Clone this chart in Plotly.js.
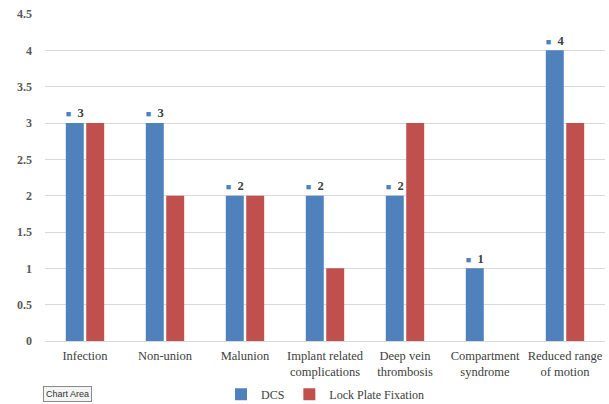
<!DOCTYPE html>
<html>
<head>
<meta charset="utf-8">
<script src="https://cdn.plot.ly/plotly-3.0.1.min.js"></script>
<style>html,body{margin:0;padding:0;background:#fff;}#chart{width:609px;height:404px;}</style>
</head>
<body>
<div id="chart"></div>
<script>
var categories = ["Infection", "Non-union", "Malunion", "Implant related<br>complications", "Deep vein<br>thrombosis", "Compartment<br>syndrome", "Reduced range<br>of motion"];
var dcsValues = [3, 3, 2, 2, 2, 1, 4];
var lockPlateValues = [3, 2, 2, 1, 3, 0, 3];
var yTickVals = [0, 0.5, 1, 1.5, 2, 2.5, 3, 3.5, 4, 4.5];
var yTickText = ["0", "0.5", "1", "1.5", "2", "2.5", "3", "3.5", "4", "4.5"];

var blue = "#4f81bd", red = "#c0504d";
var serif = "'Times New Roman', 'Liberation Serif', 'DejaVu Serif', serif";

var traces = [
  {
    type: "bar", name: "DCS", x: categories, y: dcsValues,
    marker: {color: blue},
    text: dcsValues.map(function(v){ return '<span style="color:' + blue + ';font-size:10px">■</span>  ' + '<b>' + v + '</b>'; }),
    textposition: "outside", cliponaxis: false,
    textfont: {family: serif, size: 14, color: "#404040"},
    hoverinfo: "none"
  },
  {
    type: "bar", name: "Lock Plate Fixation", x: categories, y: lockPlateValues,
    marker: {color: red}, hoverinfo: "none"
  }
];

var layout = {
  width: 609, height: 404,
  margin: {l: 45, r: 4, t: 14, b: 63, autoexpand: false},
  paper_bgcolor: "#fff", plot_bgcolor: "#fff",
  barmode: "group", bargap: 0.49, bargroupgap: 0.12,
  font: {family: serif},
  showlegend: true,
  legend: {orientation: "h", x: 0.5, xanchor: "center", y: -0.163, yanchor: "middle",
    font: {family: serif, size: 12, color: "#404040"}, itemwidth: 30},
  xaxis: {
    type: "category", showgrid: false, showline: true, linecolor: "#d9d9d9", linewidth: 1,
    ticks: "", automargin: false, ticklabelstandoff: 3, tickfont: {family: serif, size: 12.5, color: "#404040"},
    fixedrange: true
  },
  yaxis: {
    range: [0, 4.5], tickvals: yTickVals, ticktext: yTickText, automargin: false,
    showgrid: true, gridcolor: "#d9d9d9", gridwidth: 1, zeroline: false, showline: false,
    ticks: "", ticklabelstandoff: 12,
    tickfont: {family: serif, size: 12, color: "#595959", weight: "bold"},
    fixedrange: true
  },
  annotations: [
    {xref: "paper", yref: "paper", x: -0.004, y: -0.138, xanchor: "left", yanchor: "top",
     text: "Chart Area", showarrow: false, bgcolor: "#f4f4f4", bordercolor: "#8a8a8a", borderwidth: 1, borderpad: 2,
     font: {family: "'Liberation Sans', sans-serif", size: 9, color: "#333"}}
  ]
};

Plotly.newPlot("chart", traces, layout, {displayModeBar: false, staticPlot: true});
</script>
</body>
</html>
